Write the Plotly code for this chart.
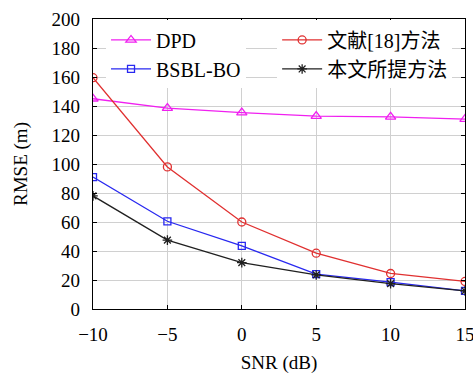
import plotly.graph_objects as go

snr = [-10, -5, 0, 5, 10, 15]
dpd = [145, 138.5, 135.5, 133, 132.5, 131]
ref18 = [159.5, 98, 60, 38.5, 24.5, 19]
bsbl = [91, 60.5, 43.5, 24, 18.5, 12.5]
prop = [78, 47.5, 32, 23.5, 17.5, 12.5]

font_main = "Liberation Serif, Noto Sans CJK SC, serif"

fig = go.Figure()
fig.add_trace(go.Scatter(x=snr, y=dpd, name="DPD", mode="lines+markers",
                         line=dict(color="#f020f0", width=1.3),
                         marker=dict(symbol="triangle-up-open", size=9, color="#f020f0", line=dict(width=1.3)),
                         legend="legend"))
fig.add_trace(go.Scatter(x=snr, y=bsbl, name="BSBL-BO", mode="lines+markers",
                         line=dict(color="#2828f0", width=1.3),
                         marker=dict(symbol="square-open", size=7, color="#2828f0", line=dict(width=1.3)),
                         legend="legend"))
fig.add_trace(go.Scatter(x=snr, y=ref18, name="文献[18]方法", mode="lines+markers",
                         line=dict(color="#e03030", width=1.3),
                         marker=dict(symbol="circle-open", size=8, color="#e03030", line=dict(width=1.3)),
                         legend="legend2"))
fig.add_trace(go.Scatter(x=snr, y=prop, name="本文所提方法", mode="lines+markers",
                         line=dict(color="#202020", width=1.3),
                         marker=dict(symbol="asterisk-open", size=8, color="#202020", line=dict(width=1.3)),
                         legend="legend2"))

axis_common = dict(showline=True, linecolor="black", linewidth=1.3, mirror="ticks",
                   ticks="inside", ticklen=4, tickcolor="black",
                   showgrid=True, gridcolor="#d0d0d0", gridwidth=1, zeroline=False,
                   ticklabeloverflow="allow", automargin=False,
                   tickfont=dict(family=font_main, size=19, color="black"))

fig.update_xaxes(range=[-10, 15], tickvals=snr, ticklabelstandoff=8,
                 title=dict(text="SNR (dB)", font=dict(family=font_main, size=19, color="black"), standoff=16),
                 **axis_common)
fig.update_yaxes(range=[0, 200], dtick=20, ticklabelstandoff=8,
                 title=dict(text="RMSE (m)", font=dict(family=font_main, size=19, color="black"), standoff=18),
                 **axis_common)

leg_common = dict(bgcolor="white", borderwidth=0, font=dict(family=font_main, size=20, color="black"),
                  xanchor="left", yanchor="top", tracegroupgap=0, itemwidth=40, traceorder="normal")
fig.update_layout(
    width=473, height=374,
    margin=dict(l=93, r=8, t=19, b=65),
    paper_bgcolor="white", plot_bgcolor="white",
    legend=dict(x=0.035, y=0.995, **leg_common),
    legend2=dict(x=0.495, y=0.995, **leg_common),
)

fig.write_html("out.html")
